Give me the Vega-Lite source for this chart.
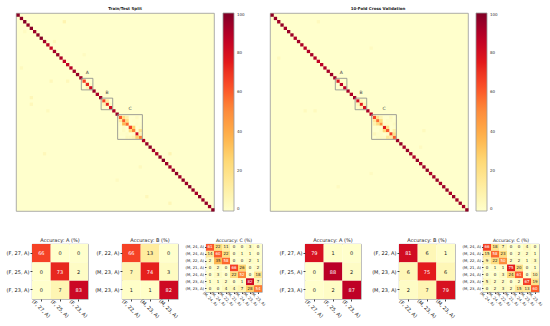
{
"$schema": "https://vega.github.io/schema/vega-lite/v6.json",
"padding": {"left": 5, "top": 6, "right": 0, "bottom": 0},
"background": "white",
"config": {"font": "DejaVu Sans", "view": {"stroke": null}, "title": {"color": "#222", "fontWeight": "normal"}, "axis": {"labelColor": "#222", "tickColor": "#444", "domain": false}},
"datasets": {
"m1": [
{"r":0,"c":0,"v":98},{"r":1,"c":1,"v":97},{"r":2,"c":2,"v":99},{"r":3,"c":3,"v":96},{"r":4,"c":4,"v":98},{"r":5,"c":5,"v":94},{"r":6,"c":6,"v":97},{"r":7,"c":7,"v":99},{"r":8,"c":8,"v":93},{"r":9,"c":9,"v":88},
{"r":10,"c":10,"v":84},{"r":11,"c":11,"v":92},{"r":12,"c":12,"v":95},{"r":13,"c":13,"v":91},{"r":14,"c":14,"v":86},{"r":15,"c":15,"v":85},{"r":16,"c":16,"v":89},{"r":17,"c":17,"v":93},{"r":18,"c":18,"v":96},{"r":19,"c":19,"v":92},
{"r":20,"c":20,"v":66},{"r":21,"c":21,"v":73},{"r":22,"c":22,"v":83},{"r":23,"c":23,"v":95},{"r":24,"c":24,"v":91},{"r":25,"c":25,"v":94},{"r":26,"c":26,"v":66},{"r":27,"c":27,"v":74},{"r":28,"c":28,"v":82},{"r":29,"c":29,"v":90},
{"r":30,"c":30,"v":95},{"r":31,"c":31,"v":61},{"r":32,"c":32,"v":60},{"r":33,"c":33,"v":58},{"r":34,"c":34,"v":66},{"r":35,"c":35,"v":52},{"r":36,"c":36,"v":82},{"r":37,"c":37,"v":54},{"r":38,"c":38,"v":90},{"r":39,"c":39,"v":95},
{"r":40,"c":40,"v":97},{"r":41,"c":41,"v":93},{"r":42,"c":42,"v":91},{"r":43,"c":43,"v":96},{"r":44,"c":44,"v":98},{"r":45,"c":45,"v":94},{"r":46,"c":46,"v":92},{"r":47,"c":47,"v":95},{"r":48,"c":48,"v":97},{"r":49,"c":49,"v":93},
{"r":50,"c":50,"v":96},{"r":51,"c":51,"v":94},{"r":52,"c":52,"v":98},{"r":53,"c":53,"v":95},{"r":54,"c":54,"v":92},{"r":55,"c":55,"v":97},{"r":56,"c":56,"v":94},{"r":57,"c":57,"v":96},{"r":58,"c":58,"v":93},{"r":59,"c":59,"v":98},
{"r":21,"c":22,"v":2},{"r":22,"c":21,"v":7},
{"r":26,"c":27,"v":13},{"r":27,"c":26,"v":7},{"r":27,"c":28,"v":3},{"r":28,"c":26,"v":1},{"r":28,"c":27,"v":1},
{"r":31,"c":32,"v":22},{"r":31,"c":33,"v":11},{"r":31,"c":36,"v":3},
{"r":32,"c":31,"v":14},{"r":32,"c":33,"v":22},{"r":32,"c":35,"v":1},{"r":32,"c":36,"v":1},
{"r":33,"c":31,"v":2},{"r":33,"c":32,"v":35},{"r":33,"c":36,"v":2},{"r":33,"c":37,"v":1},
{"r":34,"c":32,"v":2},{"r":34,"c":35,"v":26},{"r":34,"c":37,"v":2},
{"r":35,"c":32,"v":3},{"r":35,"c":34,"v":22},{"r":35,"c":37,"v":18},
{"r":36,"c":31,"v":1},{"r":36,"c":32,"v":1},{"r":36,"c":33,"v":2},{"r":36,"c":35,"v":1},{"r":36,"c":37,"v":7},
{"r":37,"c":33,"v":4},{"r":37,"c":34,"v":4},{"r":37,"c":35,"v":7},{"r":37,"c":36,"v":28},
{"r":2,"c":14,"v":8},{"r":8,"c":11,"v":5},{"r":20,"c":10,"v":5},{"r":20,"c":15,"v":5},{"r":16,"c":1,"v":4},{"r":25,"c":4,"v":6},{"r":27,"c":4,"v":5},{"r":29,"c":9,"v":4},{"r":42,"c":8,"v":5},{"r":42,"c":46,"v":7},{"r":46,"c":37,"v":4},{"r":55,"c":39,"v":5},{"r":57,"c":46,"v":6},{"r":5,"c":2,"v":3},{"r":12,"c":20,"v":3},{"r":50,"c":30,"v":3}
],
"m2": [
{"r":0,"c":0,"v":97},{"r":1,"c":1,"v":95},{"r":2,"c":2,"v":93},{"r":3,"c":3,"v":96},{"r":4,"c":4,"v":92},{"r":5,"c":5,"v":95},{"r":6,"c":6,"v":94},{"r":7,"c":7,"v":90},{"r":8,"c":8,"v":93},{"r":9,"c":9,"v":91},
{"r":10,"c":10,"v":88},{"r":11,"c":11,"v":90},{"r":12,"c":12,"v":92},{"r":13,"c":13,"v":89},{"r":14,"c":14,"v":86},{"r":15,"c":15,"v":88},{"r":16,"c":16,"v":90},{"r":17,"c":17,"v":92},{"r":18,"c":18,"v":94},{"r":19,"c":19,"v":93},
{"r":20,"c":20,"v":79},{"r":21,"c":21,"v":88},{"r":22,"c":22,"v":87},{"r":23,"c":23,"v":92},{"r":24,"c":24,"v":90},{"r":25,"c":25,"v":93},{"r":26,"c":26,"v":81},{"r":27,"c":27,"v":75},{"r":28,"c":28,"v":79},{"r":29,"c":29,"v":91},
{"r":30,"c":30,"v":88},{"r":31,"c":31,"v":66},{"r":32,"c":32,"v":58},{"r":33,"c":33,"v":50},{"r":34,"c":34,"v":75},{"r":35,"c":35,"v":61},{"r":36,"c":36,"v":67},{"r":37,"c":37,"v":60},{"r":38,"c":38,"v":94},{"r":39,"c":39,"v":96},
{"r":40,"c":40,"v":92},{"r":41,"c":41,"v":95},{"r":42,"c":42,"v":93},{"r":43,"c":43,"v":90},{"r":44,"c":44,"v":95},{"r":45,"c":45,"v":92},{"r":46,"c":46,"v":94},{"r":47,"c":47,"v":96},{"r":48,"c":48,"v":91},{"r":49,"c":49,"v":93},
{"r":50,"c":50,"v":95},{"r":51,"c":51,"v":92},{"r":52,"c":52,"v":94},{"r":53,"c":53,"v":96},{"r":54,"c":54,"v":91},{"r":55,"c":55,"v":95},{"r":56,"c":56,"v":93},{"r":57,"c":57,"v":94},{"r":58,"c":58,"v":92},{"r":59,"c":59,"v":97},
{"r":20,"c":21,"v":1},{"r":21,"c":22,"v":2},{"r":22,"c":21,"v":2},
{"r":26,"c":27,"v":6},{"r":26,"c":28,"v":1},{"r":27,"c":26,"v":6},{"r":27,"c":28,"v":6},{"r":28,"c":26,"v":2},{"r":28,"c":27,"v":7},
{"r":31,"c":32,"v":18},{"r":31,"c":33,"v":7},{"r":31,"c":36,"v":4},
{"r":32,"c":31,"v":15},{"r":32,"c":33,"v":23},{"r":32,"c":35,"v":2},{"r":32,"c":36,"v":2},{"r":32,"c":37,"v":1},
{"r":33,"c":31,"v":9},{"r":33,"c":32,"v":22},{"r":33,"c":34,"v":2},{"r":33,"c":35,"v":2},{"r":33,"c":36,"v":1},{"r":33,"c":37,"v":3},
{"r":34,"c":32,"v":1},{"r":34,"c":33,"v":1},{"r":34,"c":35,"v":20},{"r":34,"c":37,"v":1},
{"r":35,"c":33,"v":3},{"r":35,"c":34,"v":24},{"r":35,"c":37,"v":10},
{"r":36,"c":31,"v":5},{"r":36,"c":32,"v":2},{"r":36,"c":33,"v":2},{"r":36,"c":35,"v":2},{"r":36,"c":37,"v":19},
{"r":37,"c":32,"v":2},{"r":37,"c":33,"v":3},{"r":37,"c":34,"v":2},{"r":37,"c":35,"v":15},{"r":37,"c":36,"v":13},
{"r":2,"c":14,"v":4},{"r":13,"c":2,"v":4},{"r":29,"c":10,"v":4},{"r":29,"c":13,"v":4},{"r":35,"c":46,"v":4},{"r":48,"c":30,"v":3},{"r":52,"c":20,"v":3},{"r":40,"c":45,"v":3},{"r":10,"c":30,"v":3}
],
"boxes": [
{"box":"A","x0":19.8,"x1":23.3,"y0":19.8,"y1":23.3,"lx":21.6,"ly":18.2},
{"box":"B","x0":25.8,"x1":29.3,"y0":25.8,"y1":29.3,"lx":27.6,"ly":24.2},
{"box":"C","x0":30.8,"x1":38.3,"y0":30.8,"y1":38.3,"lx":34.6,"ly":29.2}
],
"a1": [{"r":0,"c":0,"v":66},{"r":0,"c":1,"v":0},{"r":0,"c":2,"v":0},{"r":1,"c":0,"v":0},{"r":1,"c":1,"v":73},{"r":1,"c":2,"v":2},{"r":2,"c":0,"v":0},{"r":2,"c":1,"v":7},{"r":2,"c":2,"v":83}],
"b1": [{"r":0,"c":0,"v":66},{"r":0,"c":1,"v":13},{"r":0,"c":2,"v":0},{"r":1,"c":0,"v":7},{"r":1,"c":1,"v":74},{"r":1,"c":2,"v":3},{"r":2,"c":0,"v":1},{"r":2,"c":1,"v":1},{"r":2,"c":2,"v":82}],
"c1": [
{"r":0,"c":0,"v":61},{"r":0,"c":1,"v":22},{"r":0,"c":2,"v":11},{"r":0,"c":3,"v":0},{"r":0,"c":4,"v":0},{"r":0,"c":5,"v":3},{"r":0,"c":6,"v":0},
{"r":1,"c":0,"v":14},{"r":1,"c":1,"v":60},{"r":1,"c":2,"v":22},{"r":1,"c":3,"v":0},{"r":1,"c":4,"v":1},{"r":1,"c":5,"v":1},{"r":1,"c":6,"v":0},
{"r":2,"c":0,"v":2},{"r":2,"c":1,"v":35},{"r":2,"c":2,"v":58},{"r":2,"c":3,"v":0},{"r":2,"c":4,"v":0},{"r":2,"c":5,"v":2},{"r":2,"c":6,"v":1},
{"r":3,"c":0,"v":0},{"r":3,"c":1,"v":2},{"r":3,"c":2,"v":0},{"r":3,"c":3,"v":66},{"r":3,"c":4,"v":26},{"r":3,"c":5,"v":0},{"r":3,"c":6,"v":2},
{"r":4,"c":0,"v":0},{"r":4,"c":1,"v":3},{"r":4,"c":2,"v":0},{"r":4,"c":3,"v":22},{"r":4,"c":4,"v":52},{"r":4,"c":5,"v":0},{"r":4,"c":6,"v":18},
{"r":5,"c":0,"v":1},{"r":5,"c":1,"v":1},{"r":5,"c":2,"v":2},{"r":5,"c":3,"v":0},{"r":5,"c":4,"v":1},{"r":5,"c":5,"v":82},{"r":5,"c":6,"v":7},
{"r":6,"c":0,"v":0},{"r":6,"c":1,"v":0},{"r":6,"c":2,"v":4},{"r":6,"c":3,"v":4},{"r":6,"c":4,"v":7},{"r":6,"c":5,"v":28},{"r":6,"c":6,"v":54}
],
"a2": [{"r":0,"c":0,"v":79},{"r":0,"c":1,"v":1},{"r":0,"c":2,"v":0},{"r":1,"c":0,"v":0},{"r":1,"c":1,"v":88},{"r":1,"c":2,"v":2},{"r":2,"c":0,"v":0},{"r":2,"c":1,"v":2},{"r":2,"c":2,"v":87}],
"b2": [{"r":0,"c":0,"v":81},{"r":0,"c":1,"v":6},{"r":0,"c":2,"v":1},{"r":1,"c":0,"v":6},{"r":1,"c":1,"v":75},{"r":1,"c":2,"v":6},{"r":2,"c":0,"v":2},{"r":2,"c":1,"v":7},{"r":2,"c":2,"v":79}],
"c2": [
{"r":0,"c":0,"v":66},{"r":0,"c":1,"v":18},{"r":0,"c":2,"v":7},{"r":0,"c":3,"v":0},{"r":0,"c":4,"v":0},{"r":0,"c":5,"v":4},{"r":0,"c":6,"v":0},
{"r":1,"c":0,"v":15},{"r":1,"c":1,"v":58},{"r":1,"c":2,"v":23},{"r":1,"c":3,"v":0},{"r":1,"c":4,"v":2},{"r":1,"c":5,"v":2},{"r":1,"c":6,"v":1},
{"r":2,"c":0,"v":9},{"r":2,"c":1,"v":22},{"r":2,"c":2,"v":50},{"r":2,"c":3,"v":2},{"r":2,"c":4,"v":2},{"r":2,"c":5,"v":1},{"r":2,"c":6,"v":3},
{"r":3,"c":0,"v":0},{"r":3,"c":1,"v":1},{"r":3,"c":2,"v":1},{"r":3,"c":3,"v":75},{"r":3,"c":4,"v":20},{"r":3,"c":5,"v":0},{"r":3,"c":6,"v":1},
{"r":4,"c":0,"v":0},{"r":4,"c":1,"v":0},{"r":4,"c":2,"v":3},{"r":4,"c":3,"v":24},{"r":4,"c":4,"v":61},{"r":4,"c":5,"v":0},{"r":4,"c":6,"v":10},
{"r":5,"c":0,"v":5},{"r":5,"c":1,"v":2},{"r":5,"c":2,"v":2},{"r":5,"c":3,"v":0},{"r":5,"c":4,"v":2},{"r":5,"c":5,"v":67},{"r":5,"c":6,"v":19},
{"r":6,"c":0,"v":0},{"r":6,"c":1,"v":2},{"r":6,"c":2,"v":3},{"r":6,"c":3,"v":2},{"r":6,"c":4,"v":15},{"r":6,"c":5,"v":13},{"r":6,"c":6,"v":60}
]
},
"bounds": "flush",
"spacing": 231,
"resolve": {"scale": {"color": "independent"}, "legend": {"color": "independent"}},
"vconcat": [
{
"hconcat": [
{
"width": 198, "height": 198,
"title": {"text": "Train/Test Split", "fontSize": 4, "fontWeight": "bold", "dx": 10, "offset": 2, "frame": "group"},
"view": {"stroke": "#999", "strokeWidth": 0.8, "fill": "#ffffcc"},
"layer": [
{"data": {"name": "m1"}, "mark": "rect", "encoding": {
"x": {"field": "c", "type": "quantitative", "bin": {"binned": true, "step": 1}, "scale": {"domain": [0, 60]}, "axis": null},
"y": {"field": "r", "type": "quantitative", "bin": {"binned": true, "step": 1}, "scale": {"domain": [0, 60], "reverse": true}, "axis": null},
"color": {"field": "v", "type": "quantitative", "scale": {"domain": [0, 12.5, 25, 37.5, 50, 62.5, 75, 87.5, 100], "range": ["#ffffcc", "#ffeda0", "#fed976", "#feb24c", "#fd8d3c", "#fc4e2a", "#e31a1c", "#bd0026", "#800026"]},
"legend": {"title": null, "orient": "right", "direction": "vertical", "offset": 9, "padding": 0, "gradientLength": 198, "gradientThickness": 11, "values": [0, 20, 40, 60, 80, 100], "labelFontSize": 4, "labelColor": "#333", "labelBaseline": "middle", "labelOffset": 3, "labelOverlap": false, "gradientStrokeColor": "#999", "gradientStrokeWidth": 0.8}}
}},
{"data": {"name": "boxes"}, "mark": {"type": "rect", "fill": null, "stroke": "#888", "strokeWidth": 0.8}, "encoding": {
"x": {"field": "x0", "type": "quantitative", "axis": null}, "x2": {"field": "x1"},
"y": {"field": "y0", "type": "quantitative", "axis": null}, "y2": {"field": "y1"}}},
{"data": {"name": "boxes"}, "mark": {"type": "text", "fontSize": 4.5, "color": "#444", "baseline": "middle"}, "encoding": {
"x": {"field": "lx", "type": "quantitative", "axis": null},
"y": {"field": "ly", "type": "quantitative", "axis": null},
"text": {"field": "box"}}}
]
},
{
"width": 198, "height": 198,
"title": {"text": "10-Fold Cross Validation", "fontSize": 4, "fontWeight": "bold", "dx": 9, "offset": 2, "frame": "group"},
"view": {"stroke": "#999", "strokeWidth": 0.8, "fill": "#ffffcc"},
"layer": [
{"data": {"name": "m2"}, "mark": "rect", "encoding": {
"x": {"field": "c", "type": "quantitative", "bin": {"binned": true, "step": 1}, "scale": {"domain": [0, 60]}, "axis": null},
"y": {"field": "r", "type": "quantitative", "bin": {"binned": true, "step": 1}, "scale": {"domain": [0, 60], "reverse": true}, "axis": null},
"color": {"field": "v", "type": "quantitative", "scale": {"domain": [0, 12.5, 25, 37.5, 50, 62.5, 75, 87.5, 100], "range": ["#ffffcc", "#ffeda0", "#fed976", "#feb24c", "#fd8d3c", "#fc4e2a", "#e31a1c", "#bd0026", "#800026"]},
"legend": {"title": null, "orient": "right", "direction": "vertical", "offset": 8, "padding": 0, "gradientLength": 198, "gradientThickness": 11, "values": [0, 20, 40, 60, 80, 100], "labelFontSize": 4, "labelColor": "#333", "labelBaseline": "middle", "labelOffset": 3, "labelOverlap": false, "gradientStrokeColor": "#999", "gradientStrokeWidth": 0.8}}
}},
{"data": {"name": "boxes"}, "mark": {"type": "rect", "fill": null, "stroke": "#888", "strokeWidth": 0.8}, "encoding": {
"x": {"field": "x0", "type": "quantitative", "axis": null}, "x2": {"field": "x1"},
"y": {"field": "y0", "type": "quantitative", "axis": null}, "y2": {"field": "y1"}}},
{"data": {"name": "boxes"}, "mark": {"type": "text", "fontSize": 4.5, "color": "#444", "baseline": "middle"}, "encoding": {
"x": {"field": "lx", "type": "quantitative", "axis": null},
"y": {"field": "ly", "type": "quantitative", "axis": null},
"text": {"field": "box"}}}
]
}
],
"bounds": "flush",
"spacing": 56,
"resolve": {"scale": {"color": "independent"}, "legend": {"color": "independent"}}
},
{
"hconcat": [
{"data": {"values": []}, "mark": "point", "width": 15.7, "height": 4},
{
"width": 56, "height": 55, "data": {"name": "a1"},
"title": {"text": "Accuracy: A (%)", "fontSize": 5, "offset": 1.5},
"view": {"stroke": "#999", "strokeWidth": 0.8},
"encoding": {
"x": {"field": "c", "type": "ordinal", "title": null, "axis": {"labelExpr": "['(F, 27, A)','(F, 25, A)','(F, 23, A)'][datum.value]", "labelAngle": 45, "labelAlign": "center", "labelBaseline": "middle", "labelPadding": 7, "tickSize": 2, "labelFontSize": 5}},
"y": {"field": "r", "type": "ordinal", "title": null, "axis": {"labelExpr": "['(F, 27, A)','(F, 25, A)','(F, 23, A)'][datum.value]", "tickSize": 2, "labelPadding": 1, "labelFontSize": 5}}
},
"layer": [
{"mark": "rect", "encoding": {"color": {"field": "v", "type": "quantitative", "scale": {"domain": [0, 12.5, 25, 37.5, 50, 62.5, 75, 87.5, 100], "range": ["#ffffcc", "#ffeda0", "#fed976", "#feb24c", "#fd8d3c", "#fc4e2a", "#e31a1c", "#bd0026", "#800026"]}, "legend": null}}},
{"mark": {"type": "text", "fontSize": 5}, "encoding": {"text": {"field": "v", "type": "quantitative"}, "color": {"condition": {"test": "datum.v > 45", "value": "white"}, "value": "#222"}}}
]
},
{"data": {"values": []}, "mark": "point", "width": 34, "height": 4},
{
"width": 56, "height": 55, "data": {"name": "b1"},
"title": {"text": "Accuracy: B (%)", "fontSize": 5, "offset": 1.5},
"view": {"stroke": "#999", "strokeWidth": 0.8},
"encoding": {
"x": {"field": "c", "type": "ordinal", "title": null, "axis": {"labelExpr": "['(F, 22, A)','(M, 23, A)','(M, 23, A)'][datum.value]", "labelAngle": 45, "labelAlign": "center", "labelBaseline": "middle", "labelPadding": 7, "tickSize": 2, "labelFontSize": 5}},
"y": {"field": "r", "type": "ordinal", "title": null, "axis": {"labelExpr": "['(F, 22, A)','(M, 23, A)','(M, 23, A)'][datum.value]", "tickSize": 2, "labelPadding": 1, "labelFontSize": 5}}
},
"layer": [
{"mark": "rect", "encoding": {"color": {"field": "v", "type": "quantitative", "scale": {"domain": [0, 12.5, 25, 37.5, 50, 62.5, 75, 87.5, 100], "range": ["#ffffcc", "#ffeda0", "#fed976", "#feb24c", "#fd8d3c", "#fc4e2a", "#e31a1c", "#bd0026", "#800026"]}, "legend": null}}},
{"mark": {"type": "text", "fontSize": 5}, "encoding": {"text": {"field": "v", "type": "quantitative"}, "color": {"condition": {"test": "datum.v > 45", "value": "white"}, "value": "#222"}}}
]
},
{"data": {"values": []}, "mark": "point", "width": 27.3, "height": 4},
{
"width": 56, "height": 48, "data": {"name": "c1"},
"title": {"text": "Accuracy: C (%)", "fontSize": 4.6, "offset": 1},
"view": {"stroke": "#999", "strokeWidth": 0.8},
"encoding": {
"x": {"field": "c", "type": "ordinal", "title": null, "axis": {"labelExpr": "['(M, 24, A)','(M, 24, A)','(M, 22, A)','(M, 21, A)','(M, 24, A)','(M, 23, A)','(M, 23, A)'][datum.value]", "labelAngle": 45, "labelAlign": "center", "labelBaseline": "middle", "labelPadding": 5, "tickSize": 1.5, "labelFontSize": 3.8}},
"y": {"field": "r", "type": "ordinal", "title": null, "axis": {"labelExpr": "['(M, 24, A)','(M, 24, A)','(M, 22, A)','(M, 21, A)','(M, 24, A)','(M, 23, A)','(M, 23, A)'][datum.value]", "tickSize": 1.5, "labelPadding": 1, "labelFontSize": 3.8}}
},
"layer": [
{"mark": "rect", "encoding": {"color": {"field": "v", "type": "quantitative", "scale": {"domain": [0, 12.5, 25, 37.5, 50, 62.5, 75, 87.5, 100], "range": ["#ffffcc", "#ffeda0", "#fed976", "#feb24c", "#fd8d3c", "#fc4e2a", "#e31a1c", "#bd0026", "#800026"]}, "legend": null}}},
{"mark": {"type": "text", "fontSize": 4}, "encoding": {"text": {"field": "v", "type": "quantitative"}, "color": {"condition": {"test": "datum.v > 45", "value": "white"}, "value": "#222"}}}
]
},
{"data": {"values": []}, "mark": "point", "width": 42.3, "height": 4},
{
"width": 56, "height": 55, "data": {"name": "a2"},
"title": {"text": "Accuracy: A (%)", "fontSize": 5, "offset": 1.5},
"view": {"stroke": "#999", "strokeWidth": 0.8},
"encoding": {
"x": {"field": "c", "type": "ordinal", "title": null, "axis": {"labelExpr": "['(F, 27, A)','(F, 25, A)','(F, 23, A)'][datum.value]", "labelAngle": 45, "labelAlign": "center", "labelBaseline": "middle", "labelPadding": 7, "tickSize": 2, "labelFontSize": 5}},
"y": {"field": "r", "type": "ordinal", "title": null, "axis": {"labelExpr": "['(F, 27, A)','(F, 25, A)','(F, 23, A)'][datum.value]", "tickSize": 2, "labelPadding": 1, "labelFontSize": 5}}
},
"layer": [
{"mark": "rect", "encoding": {"color": {"field": "v", "type": "quantitative", "scale": {"domain": [0, 12.5, 25, 37.5, 50, 62.5, 75, 87.5, 100], "range": ["#ffffcc", "#ffeda0", "#fed976", "#feb24c", "#fd8d3c", "#fc4e2a", "#e31a1c", "#bd0026", "#800026"]}, "legend": null}}},
{"mark": {"type": "text", "fontSize": 5}, "encoding": {"text": {"field": "v", "type": "quantitative"}, "color": {"condition": {"test": "datum.v > 45", "value": "white"}, "value": "#222"}}}
]
},
{"data": {"values": []}, "mark": "point", "width": 37.4, "height": 4},
{
"width": 56, "height": 55, "data": {"name": "b2"},
"title": {"text": "Accuracy: B (%)", "fontSize": 5, "offset": 1.5},
"view": {"stroke": "#999", "strokeWidth": 0.8},
"encoding": {
"x": {"field": "c", "type": "ordinal", "title": null, "axis": {"labelExpr": "['(F, 22, A)','(M, 23, A)','(M, 23, A)'][datum.value]", "labelAngle": 45, "labelAlign": "center", "labelBaseline": "middle", "labelPadding": 7, "tickSize": 2, "labelFontSize": 5}},
"y": {"field": "r", "type": "ordinal", "title": null, "axis": {"labelExpr": "['(F, 22, A)','(M, 23, A)','(M, 23, A)'][datum.value]", "tickSize": 2, "labelPadding": 1, "labelFontSize": 5}}
},
"layer": [
{"mark": "rect", "encoding": {"color": {"field": "v", "type": "quantitative", "scale": {"domain": [0, 12.5, 25, 37.5, 50, 62.5, 75, 87.5, 100], "range": ["#ffffcc", "#ffeda0", "#fed976", "#feb24c", "#fd8d3c", "#fc4e2a", "#e31a1c", "#bd0026", "#800026"]}, "legend": null}}},
{"mark": {"type": "text", "fontSize": 5}, "encoding": {"text": {"field": "v", "type": "quantitative"}, "color": {"condition": {"test": "datum.v > 45", "value": "white"}, "value": "#222"}}}
]
},
{"data": {"values": []}, "mark": "point", "width": 27.3, "height": 4},
{
"width": 56, "height": 48, "data": {"name": "c2"},
"title": {"text": "Accuracy: C (%)", "fontSize": 4.6, "offset": 1},
"view": {"stroke": "#999", "strokeWidth": 0.8},
"encoding": {
"x": {"field": "c", "type": "ordinal", "title": null, "axis": {"labelExpr": "['(M, 24, A)','(M, 24, A)','(M, 22, A)','(M, 21, A)','(M, 24, A)','(M, 23, A)','(M, 23, A)'][datum.value]", "labelAngle": 45, "labelAlign": "center", "labelBaseline": "middle", "labelPadding": 5, "tickSize": 1.5, "labelFontSize": 3.8}},
"y": {"field": "r", "type": "ordinal", "title": null, "axis": {"labelExpr": "['(M, 24, A)','(M, 24, A)','(M, 22, A)','(M, 21, A)','(M, 24, A)','(M, 23, A)','(M, 23, A)'][datum.value]", "tickSize": 1.5, "labelPadding": 1, "labelFontSize": 3.8}}
},
"layer": [
{"mark": "rect", "encoding": {"color": {"field": "v", "type": "quantitative", "scale": {"domain": [0, 12.5, 25, 37.5, 50, 62.5, 75, 87.5, 100], "range": ["#ffffcc", "#ffeda0", "#fed976", "#feb24c", "#fd8d3c", "#fc4e2a", "#e31a1c", "#bd0026", "#800026"]}, "legend": null}}},
{"mark": {"type": "text", "fontSize": 4}, "encoding": {"text": {"field": "v", "type": "quantitative"}, "color": {"condition": {"test": "datum.v > 45", "value": "white"}, "value": "#222"}}}
]
}
],
"bounds": "flush",
"spacing": 0,
"resolve": {"scale": {"color": "independent"}, "legend": {"color": "independent"}}
}
]
}
